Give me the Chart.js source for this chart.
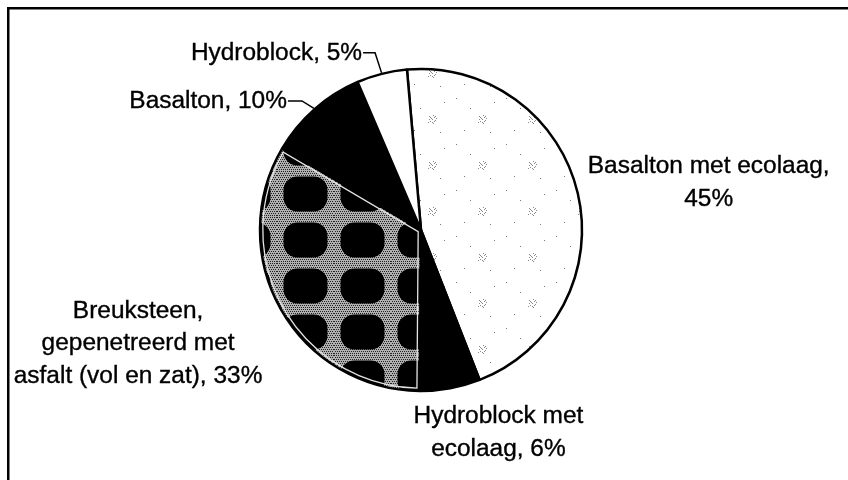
<!DOCTYPE html>
<html><head><meta charset="utf-8">
<script src="https://cdn.jsdelivr.net/npm/chart.js@4.4.1/dist/chart.umd.min.js"></script>
<style>html,body{margin:0;padding:0;background:#fff;overflow:hidden}canvas{display:block}</style>
</head><body>
<canvas id="c" width="848" height="480"></canvas>
<script>
const categories = ['Basalton met ecolaag', 'Hydroblock met ecolaag', 'Breuksteen, gepenetreerd met asfalt (vol en zat)', 'Basalton', 'Hydroblock'];
const percentages = [45, 6, 33, 10, 5];
const labelLines = [
  [categories[0] + ',', percentages[0] + '%'],
  ['Hydroblock met', 'ecolaag, ' + percentages[1] + '%'],
  ['Breuksteen,', 'gepenetreerd met', 'asfalt (vol en zat), ' + percentages[2] + '%'],
  [categories[3] + ', ' + percentages[3] + '%'],
  [categories[4] + ', ' + percentages[4] + '%']
];

const canvas = document.getElementById('c');
const ctx = canvas.getContext('2d');

function speckle() {
  const t = document.createElement('canvas'); t.width = 50; t.height = 46;
  const g = t.getContext('2d');
  g.fillStyle = '#fff'; g.fillRect(0, 0, 50, 46);
  g.fillStyle = '#8a8a8a';
  [[0,0],[2,-2],[-2,2],[2,2],[-2,-2],[1,-4],[-3,0],[3,1],[0,3],[-1,-1],[4,-1],[-4,3],[3,-3],[-3,-3],[1,4]].forEach(([dx,dy]) => g.fillRect(32+dx, 27+dy, 1, 1));
  g.fillStyle = '#777';
  [[6,6],[14,38],[44,10],[20,16],[40,40]].forEach(([x,y]) => g.fillRect(x, y, 1, 1));
  return ctx.createPattern(t, 'repeat');
}
function mesh() {
  const w = 57, h = 46;
  const t = document.createElement('canvas'); t.width = w; t.height = h;
  const g = t.getContext('2d');
  g.fillStyle = '#b0b0b0'; g.fillRect(0, 0, w, h);
  g.fillStyle = '#222';
  for (let y = 0; y < h; y += 2) for (let x = (y % 4 === 0 ? 0 : 1); x < w; x += 2) g.fillRect(x, y, 1, 1);
  g.fillStyle = '#000';
  g.beginPath(); g.roundRect(w/2 - 22, h/2 - 17.5, 44, 35, 14); g.fill();
  const p = ctx.createPattern(t, 'repeat');
  p.setTransform(new DOMMatrix().translate(49, 33));
  return p;
}

const labelLayout = [
  { dx: 130, dy: -20, align: 'center' },
  { dx: 48, dy: 34, align: 'center' },
  { dx: -142, dy: 8, align: 'center' },
  { elbow: [-12, -7.5], hlen: 14, align: 'right' },
  { elbow: [-6.5, -20], hlen: 12, align: 'right' }
];
const FONT = '23.5px "Liberation Sans", Arial, sans-serif';
const SX = 1.04, LH = 32.5;

const decor = {
  id: 'decor',
  beforeDraw(chart) {
    const c = chart.ctx;
    c.save();
    c.fillStyle = '#fff'; c.fillRect(0, 0, chart.width, chart.height);
    c.strokeStyle = '#000'; c.lineWidth = 2.5;
    c.strokeRect(8.25, 8.25, 900, 600);
    c.restore();
  },
  afterDatasetsDraw(chart) {
    const c = chart.ctx;
    const meta = chart.getDatasetMeta(0);
    const a2 = meta.data[2].getProps(['x','y','startAngle','endAngle','outerRadius'], true);
    const d = 2.8, half = (a2.endAngle - a2.startAngle) / 2, mid = (a2.startAngle + a2.endAngle) / 2;
    const ad = d / Math.sin(half), R = a2.outerRadius - d, adj = Math.asin(d / R);
    c.save();
    c.strokeStyle = '#e4e4e4'; c.lineWidth = 1.3;
    c.beginPath();
    c.moveTo(a2.x + Math.cos(mid) * ad, a2.y + Math.sin(mid) * ad);
    c.arc(a2.x, a2.y, R, a2.startAngle + adj, a2.endAngle - adj);
    c.closePath(); c.stroke();
    c.restore();

    c.save();
    c.font = FONT; c.fillStyle = '#000'; c.strokeStyle = '#000'; c.lineWidth = 1.5;
    meta.data.forEach((arc, i) => {
      const p = arc.getProps(['x','y','startAngle','endAngle','outerRadius'], true);
      const m = (p.startAngle + p.endAngle) / 2;
      const ex = p.x + Math.cos(m) * (p.outerRadius + 1);
      const ey = p.y + Math.sin(m) * (p.outerRadius + 1);
      const L = labelLayout[i];
      let tx, ty;
      if (L.elbow) {
        const bx = ex + L.elbow[0], by = ey + L.elbow[1];
        c.beginPath(); c.moveTo(ex, ey); c.lineTo(bx, by); c.lineTo(bx - L.hlen, by); c.stroke();
        tx = bx - L.hlen - 1; ty = by + 7.5;
      } else {
        tx = ex + L.dx; ty = ey + L.dy;
      }
      c.textAlign = L.align; c.textBaseline = 'alphabetic';
      labelLines[i].forEach((line, k) => {
        c.save(); c.translate(tx, ty + k * LH); c.scale(SX, 1);
        c.lineWidth = 0.35; c.strokeText(line, 0, 0); c.fillText(line, 0, 0);
        c.restore();
      });
    });
    c.restore();
  }
};

new Chart(canvas, {
  type: 'pie',
  data: {
    labels: categories,
    datasets: [{
      data: percentages,
      backgroundColor: [speckle(), '#000', mesh(), '#000', '#fff'],
      borderColor: '#000',
      borderWidth: 2.5
    }]
  },
  options: {
    responsive: false,
    animation: false,
    rotation: -5,
    radius: 161,
    layout: { padding: { left: 0, right: 6, top: 0, bottom: 20 } },
    plugins: { legend: { display: false }, tooltip: { enabled: false } },
    events: []
  },
  plugins: [decor]
});
</script>
</body></html>
